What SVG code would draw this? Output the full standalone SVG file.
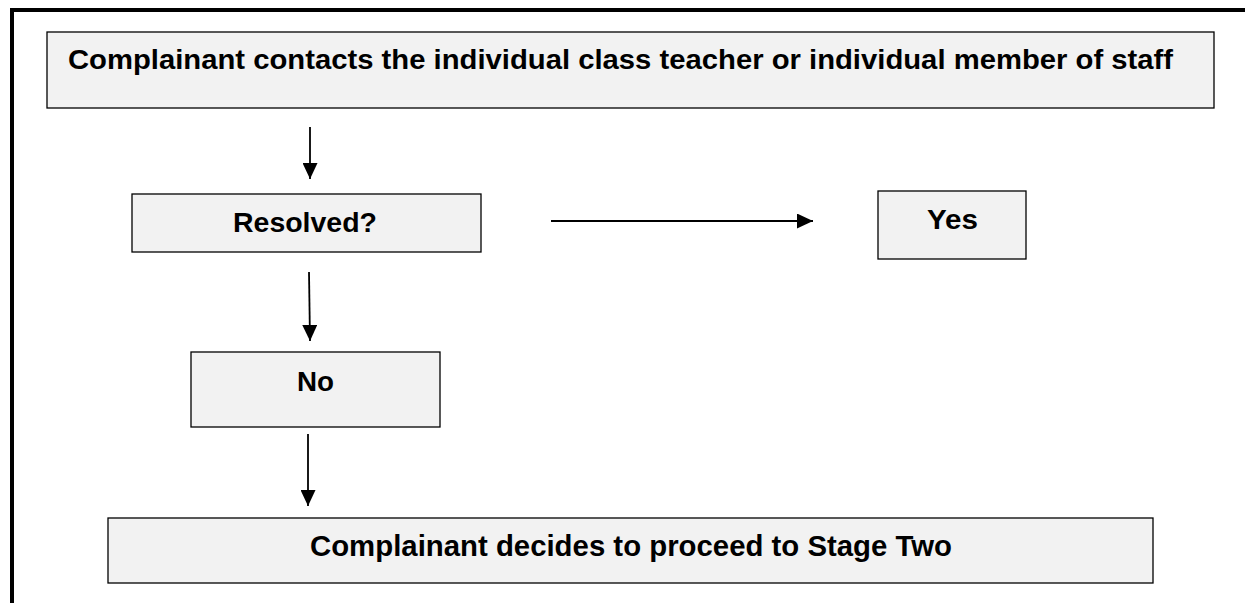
<svg xmlns="http://www.w3.org/2000/svg" width="1245" height="603" viewBox="0 0 1245 603">
<defs>
<style>
.box{fill:#f2f2f2;stroke:#000;stroke-width:1.3}
.lbl{font-family:"Liberation Sans",Arial,sans-serif;font-weight:bold;font-size:28px;fill:#000}
.conn{stroke:#000;stroke-width:1.8;fill:none}
</style>
<marker id="ah" markerWidth="16" markerHeight="15" refX="16" refY="7.5" orient="auto" markerUnits="userSpaceOnUse">
<path d="M0,0 L16,7.5 L0,15 Z" fill="#000"/>
</marker>
</defs>
<rect width="1245" height="603" fill="#fff"/>
<path d="M12,603 L12,10 L1245,10" fill="none" stroke="#000" stroke-width="4"/>
<g id="start">
<rect class="box" x="47" y="32" width="1167" height="76"/>
<text class="lbl" x="68" y="69" textLength="1105" lengthAdjust="spacingAndGlyphs">Complainant contacts the individual class teacher or individual member of staff</text>
</g>
<g id="resolved">
<rect class="box" x="132" y="194" width="349" height="58"/>
<text class="lbl" x="233" y="232" textLength="144" lengthAdjust="spacingAndGlyphs">Resolved?</text>
</g>
<g id="yes">
<rect class="box" x="878" y="191" width="148" height="68"/>
<text class="lbl" x="927" y="229" textLength="51" lengthAdjust="spacingAndGlyphs">Yes</text>
</g>
<g id="no">
<rect class="box" x="191" y="352" width="249" height="75"/>
<text class="lbl" x="297" y="391" textLength="37" lengthAdjust="spacingAndGlyphs">No</text>
</g>
<g id="stage2">
<rect class="box" x="108" y="518" width="1045" height="65"/>
<text class="lbl" x="310" y="556" style="font-size:29px" textLength="642" lengthAdjust="spacingAndGlyphs">Complainant decides to proceed to Stage Two</text>
</g>
<g id="connectors">
<line class="conn" x1="310" y1="127" x2="310" y2="179" marker-end="url(#ah)"/>
<line class="conn" x1="551" y1="221" x2="813" y2="221" marker-end="url(#ah)"/>
<line class="conn" x1="309" y1="272" x2="310" y2="341" marker-end="url(#ah)"/>
<line class="conn" x1="308" y1="434" x2="308" y2="506" marker-end="url(#ah)"/>
</g>
</svg>
